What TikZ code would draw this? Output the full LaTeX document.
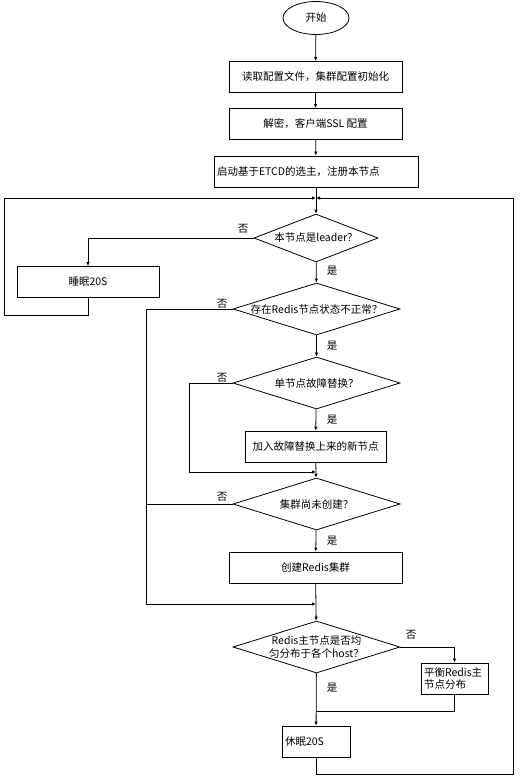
\documentclass[tikz,border=0pt]{standalone}
\usepackage{fontspec}
\setmainfont{Noto Sans CJK SC}
\usetikzlibrary{shapes.geometric,arrows.meta}
\begin{document}
\begin{tikzpicture}[x=1pt,y=-1pt,line width=0.8pt,
  font=\fontsize{10.5}{13}\selectfont,
  box/.style={draw,rectangle,inner sep=3pt,minimum height=31pt},
  dec/.style={draw,diamond,inner sep=0pt,minimum width=167pt,minimum height=52pt},
  arr/.style={-{Latex[length=4pt,width=3.5pt]}},
  yn/.style={inner sep=0pt}]
\useasboundingbox (0,0) rectangle (527,781);
% nodes
\node[draw,ellipse,minimum width=66pt,minimum height=33pt] (start) at (316,18) {开始};
\node[box,minimum width=173pt] (read) at (315.5,77) {读取配置文件，集群配置初始化};
\node[box,minimum width=173pt] (ssl) at (315.5,124) {解密，客户端SSL 配置};
\node[box,text width=198pt,align=left] (etcd) at (316,171.5) {启动基于ETCD的选主，注册本节点};
\node[dec,minimum width=124pt,minimum height=48pt,label={center:本节点是leader？}] (leader) at (316,238) {};
\node[box,minimum width=142pt] (sleepA) at (88,282) {睡眠20S};
\node[dec,label={center:存在Redis节点状态不正常？}] (abnormal) at (316.5,309) {};
\node[dec,label={center:单节点故障替换？}] (single) at (316.5,383) {};
\node[box,minimum width=141pt] (addnode) at (315.5,446.5) {加入故障替换上来的新节点};
\node[dec,label={center:集群尚未创建？}] (notcreated) at (316.5,504) {};
\node[box,minimum width=173pt] (create) at (315.5,567.5) {创建Redis集群};
\node[dec,label={[align=center,font=\fontsize{10.5}{12.5}\selectfont]center:Redis主节点是否均\\匀分布于各个host？}] (balanced) at (316.5,647) {};
\node[box,text width=61pt,align=left,font=\fontsize{10.5}{12.5}\selectfont] (rebalance) at (454.5,678.5) {平衡Redis主\\节点分布};
\node[box,text width=62pt,align=left] (sleepB) at (316,741.5) {休眠20S};
\coordinate (looptop) at (316,198);
\coordinate (j1) at (316,472);
\coordinate (j2) at (316,604);
\coordinate (j3) at (316,711);
% connectors
\draw[arr] (start) -- (read);
\draw[arr] (read) -- (ssl);
\draw[arr] (ssl) -- (etcd);
\draw[arr] (etcd) -- (leader);
\draw[arr] (leader.west) -| (sleepA.north);
\draw[arr] (sleepA.south) |- (4,315) |- (looptop);
\draw[arr] (leader) -- (abnormal);
\draw[arr] (abnormal.west) -- ++(-86,0) |- (j2);
\draw (notcreated.west) -- ++(-86,0);
\draw[arr] (abnormal) -- (single);
\draw[arr] (single.west) -- ++(-43,0) |- (j1);
\draw[arr] (single) -- (addnode);
\draw[arr] (addnode) -- (notcreated);
\draw[arr] (notcreated) -- (create);
\draw[arr] (create) -- (balanced);
\draw[arr] (balanced.east) -| (rebalance.north);
\draw (rebalance.south) |- (j3);
\draw[arr] (balanced) -- (sleepB);
\draw[arr] (sleepB.south) |- (513,774) |- (looptop);
% yes / no
\node[yn] (n1) at (243,229) {否};
\node[yn] (y1) at (332,271) {是};
\node[yn] (n2) at (222,304) {否};
\node[yn] (y2) at (332,346) {是};
\node[yn] (n3) at (222,378) {否};
\node[yn] (y3) at (332,420) {是};
\node[yn] (n4) at (222,497) {否};
\node[yn] (y4) at (332,541) {是};
\node[yn] (n5) at (411,635) {否};
\node[yn] (y5) at (332,688) {是};
\end{tikzpicture}
\end{document}
